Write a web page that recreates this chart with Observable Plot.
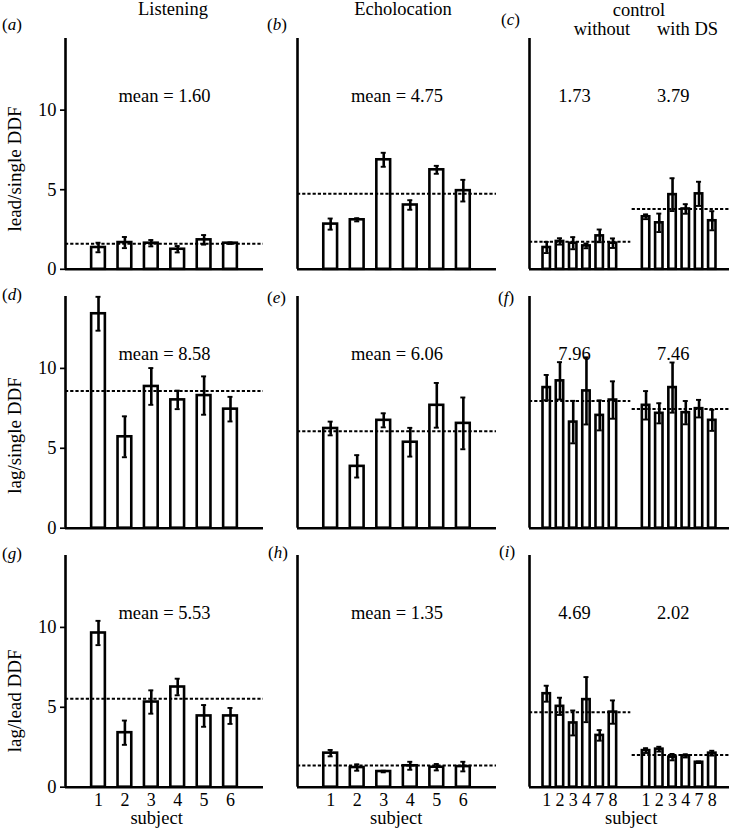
<!DOCTYPE html>
<html>
<head>
<meta charset="utf-8">
<script src="https://cdn.jsdelivr.net/npm/d3@7"></script>
<script src="https://cdn.jsdelivr.net/npm/@observablehq/plot@0.6"></script>
<style>
  body { margin: 0; background: white; }
  #fig { position: relative; width: 729px; height: 829px; background: white; font-family: "Liberation Serif", "DejaVu Serif", serif; color: black; }
  .hdr { position: absolute; font-size: 18.5px; line-height: 18.5px; white-space: nowrap; transform: translateX(-50%); }
  .plab { position: absolute; font-size: 17px; line-height: 17px; white-space: nowrap; }
</style>
</head>
<body>
<div id="fig"></div>
<script>
// ---------- data ----------
const listeningSubjects = ["1", "2", "3", "4", "5", "6"];
const controlSubjects = ["1", "2", "3", "4", "7", "8"];
const rowLabels = ["lead/single DDF", "lag/single DDF", "lag/lead DDF"];
const columnTitles = ["Listening", "Echolocation", "control"];
const controlGroups = ["without", "with DS"];
const panelLetters = ["a", "b", "c", "d", "e", "f", "g", "h", "i"];

// Listening
const listenLeadSingle = [1.37, 1.68, 1.64, 1.26, 1.85, 1.64];
const listenLeadSingleErr = [0.3, 0.35, 0.2, 0.2, 0.3, 0.05];
const listenLagSingle = [13.42, 5.72, 8.87, 8.03, 8.3, 7.45];
const listenLagSingleErr = [1.06, 1.28, 1.15, 0.58, 1.2, 0.77];
const listenLagLead = [9.65, 3.41, 5.33, 6.27, 4.46, 4.46];
const listenLagLeadErr = [0.76, 0.76, 0.73, 0.52, 0.68, 0.5];
const listenMeans = [1.60, 8.58, 5.53];

// Echolocation
const echoLeadSingle = [2.84, 3.11, 6.88, 4.04, 6.25, 4.94];
const echoLeadSingleErr = [0.35, 0.1, 0.44, 0.3, 0.25, 0.68];
const echoLagSingle = [6.24, 3.87, 6.75, 5.38, 7.69, 6.56];
const echoLagSingleErr = [0.43, 0.7, 0.44, 0.9, 1.4, 1.62];
const echoLagLead = [2.13, 1.23, 0.98, 1.34, 1.25, 1.29];
const echoLagLeadErr = [0.2, 0.2, 0.05, 0.25, 0.2, 0.3];
const echoMeans = [4.75, 6.06, 1.35];

// Control: without / with DS
const ctlWithoutLeadSingle = [1.37, 1.75, 1.64, 1.47, 2.1, 1.64];
const ctlWithoutLeadSingleErr = [0.35, 0.2, 0.38, 0.15, 0.4, 0.3];
const ctlWithLeadSingle = [3.3, 2.92, 4.69, 3.79, 4.74, 3.05];
const ctlWithLeadSingleErr = [0.15, 0.58, 1.03, 0.3, 0.76, 0.6];
const ctlWithoutLagSingle = [8.8, 9.22, 6.64, 8.59, 7.06, 8.02];
const ctlWithoutLagSingleErr = [0.79, 1.17, 1.33, 2.1, 0.94, 1.17];
const ctlWithLagSingle = [7.69, 7.19, 8.8, 7.23, 7.48, 6.75];
const ctlWithLagSingleErr = [0.89, 0.63, 1.57, 0.73, 0.55, 0.66];
const ctlWithoutLagLead = [5.85, 5.06, 4.02, 5.48, 3.24, 4.7];
const ctlWithoutLagLeadErr = [0.5, 0.54, 0.78, 1.41, 0.33, 0.73];
const ctlWithLagLead = [2.29, 2.38, 1.88, 1.96, 1.56, 2.13];
const ctlWithLagLeadErr = [0.15, 0.15, 0.2, 0.1, 0.05, 0.15];
const ctlWithoutMeans = [1.73, 7.96, 4.69];
const ctlWithMeans = [3.79, 7.46, 2.02];

// ---------- layout ----------
const colAxisX = [65, 297, 529];
const colRightX = [263, 496, 729];
const rowTopY = [37.5, 296, 555];
const rowZeroY = [268.3, 527.7, 786.7];
const yMax = 14.5;
const fontFamily = '"Liberation Serif", "DejaVu Serif", serif';

const fig = document.getElementById("fig");

function bars(values, errs, offset) {
  return values.map((v, i) => ({slot: i + offset, v, e: errs[i], idx: i}));
}

function makePanel(r, c) {
  const ml = c === 0 ? 65 : 10;
  const mr = c === 2 ? 0 : 4;
  const mt = 5;
  const mb = r === 2 ? 44 : 5;
  const innerW = colRightX[c] - colAxisX[c];
  const innerH = rowZeroY[r] - rowTopY[r];
  const width = ml + innerW + mr;
  const height = mt + innerH + mb;

  let data, means, xDomain, hw, cap, tickSlots, tickLabels, subjectX;
  if (c < 2) {
    const vals = c === 0 ? [listenLeadSingle, listenLagSingle, listenLagLead][r] : [echoLeadSingle, echoLagSingle, echoLagLead][r];
    const errs = c === 0 ? [listenLeadSingleErr, listenLagSingleErr, listenLagLeadErr][r] : [echoLeadSingleErr, echoLagSingleErr, echoLagLeadErr][r];
    const m = c === 0 ? listenMeans[r] : echoMeans[r];
    data = bars(vals, errs, 1);
    xDomain = [-0.25, 7.25];
    means = [{value: m, x1: -0.25, x2: 7.25, tx: 3.5, label: "mean = " + m.toFixed(2)}];
    hw = 0.26; cap = 0.095;
    tickSlots = data.map(d => d.slot);
    tickLabels = listeningSubjects;
    subjectX = c === 0 ? 3.2 : 3.47;
  } else {
    const v0 = [ctlWithoutLeadSingle, ctlWithoutLagSingle, ctlWithoutLagLead][r];
    const e0 = [ctlWithoutLeadSingleErr, ctlWithoutLagSingleErr, ctlWithoutLagLeadErr][r];
    const v1 = [ctlWithLeadSingle, ctlWithLagSingle, ctlWithLagLead][r];
    const e1 = [ctlWithLeadSingleErr, ctlWithLagSingleErr, ctlWithLagLeadErr][r];
    data = bars(v0, e0, 1).concat(bars(v1, e1, 8.5));
    xDomain = [-0.3, 14.8];
    means = [
      {value: ctlWithoutMeans[r], x1: -0.3, x2: 7.35, tx: 3.1, label: ctlWithoutMeans[r].toFixed(2)},
      {value: ctlWithMeans[r], x1: 7.45, x2: 14.8, tx: 10.55, label: ctlWithMeans[r].toFixed(2)}
    ];
    hw = 0.28; cap = 0.19;
    tickSlots = data.map(d => d.slot);
    tickLabels = controlSubjects.concat(controlSubjects);
    subjectX = 7.38;
  }
  const tickMap = new Map(tickSlots.map((s, i) => [s, tickLabels[i]]));

  const marks = [
    Plot.rect(data, {x1: d => d.slot - hw, x2: d => d.slot + hw, y1: 0, y2: d => d.v, fill: "white", stroke: "black", strokeWidth: 2.6}),
    Plot.ruleY(means, {y: d => d.value, x1: d => d.x1, x2: d => d.x2, stroke: "black", strokeWidth: 2, strokeDasharray: "3.2,2"}),
    Plot.ruleX(data, {x: d => d.slot, y1: d => d.v - d.e, y2: d => d.v + d.e, stroke: "black", strokeWidth: 2.6}),
    Plot.ruleY(data, {y: d => d.v + d.e, x1: d => d.slot - cap, x2: d => d.slot + cap, stroke: "black", strokeWidth: 1.9}),
    Plot.ruleY(data, {y: d => d.v - d.e, x1: d => d.slot - cap, x2: d => d.slot + cap, stroke: "black", strokeWidth: 1.9}),
    Plot.ruleX([xDomain[0]], {y1: 0, y2: yMax, stroke: "black", strokeWidth: 2.6}),
    Plot.ruleY([0], {x1: xDomain[0], x2: xDomain[1], stroke: "black", strokeWidth: 2.6}),
    Plot.text(means, {x: d => d.tx, y: () => 10.5, text: d => d.label, lineAnchor: "bottom", textAnchor: "middle", fontSize: 18.5, fontFamily})
  ];
  if (c === 0) {
    marks.push(Plot.axisY([0, 5, 10], {tickSize: 5, tickPadding: 4, strokeWidth: 1.7, fontSize: 18.5, fontFamily, label: null}));
    marks.push(Plot.text([rowLabels[r]], {x: () => xDomain[0], y: () => [6.3, 5.8, 5.4][r], dx: -51, rotate: -90, text: d => d, fontSize: 19, fontFamily, textAnchor: "middle"}));
  }
  if (r === 2) {
    marks.push(Plot.axisX(tickSlots, {tickSize: 0, tickPadding: 6, tickFormat: d => tickMap.get(d), fontSize: 18, fontFamily, label: null}));
    marks.push(Plot.text(["subject"], {x: () => subjectX, y: () => 0, dy: 37, text: d => d, lineAnchor: "bottom", textAnchor: "middle", fontSize: 18.5, fontFamily}));
  }

  const svg = Plot.plot({
    width, height,
    marginLeft: ml, marginRight: mr, marginTop: mt, marginBottom: mb,
    x: {domain: xDomain, axis: null},
    y: {domain: [0, yMax], axis: null},
    style: {fontFamily, fontSize: "18px", background: "transparent", overflow: "visible", color: "black"},
    marks
  });
  svg.style.position = "absolute";
  svg.style.left = (colAxisX[c] - ml) + "px";
  svg.style.top = (rowTopY[r] - mt) + "px";
  svg.style.maxWidth = "none";
  fig.appendChild(svg);
}

for (let r = 0; r < 3; r++) for (let c = 0; c < 3; c++) makePanel(r, c);

// column headers
function addHeader(text, cx, baseline) {
  const d = document.createElement("div");
  d.className = "hdr";
  d.textContent = text;
  d.style.left = cx + "px";
  d.style.top = (baseline - 15.5) + "px";
  fig.appendChild(d);
}
addHeader(columnTitles[0], 173, 15.5);
addHeader(columnTitles[1], 403, 15.5);
addHeader(columnTitles[2], 639, 16.5);
addHeader(controlGroups[0], 602, 35);
addHeader(controlGroups[1], 687.5, 35);

// panel letters
const letterPos = [
  [2, 30], [267, 30], [501, 25],
  [2, 300], [267, 303], [498, 303],
  [2, 559], [268, 558], [499, 557]
];
panelLetters.forEach((l, i) => {
  const d = document.createElement("div");
  d.className = "plab";
  d.innerHTML = "(<i>" + l + "</i>)";
  d.style.left = letterPos[i][0] + "px";
  d.style.top = (letterPos[i][1] - 14.2) + "px";
  fig.appendChild(d);
});
</script>
</body>
</html>
